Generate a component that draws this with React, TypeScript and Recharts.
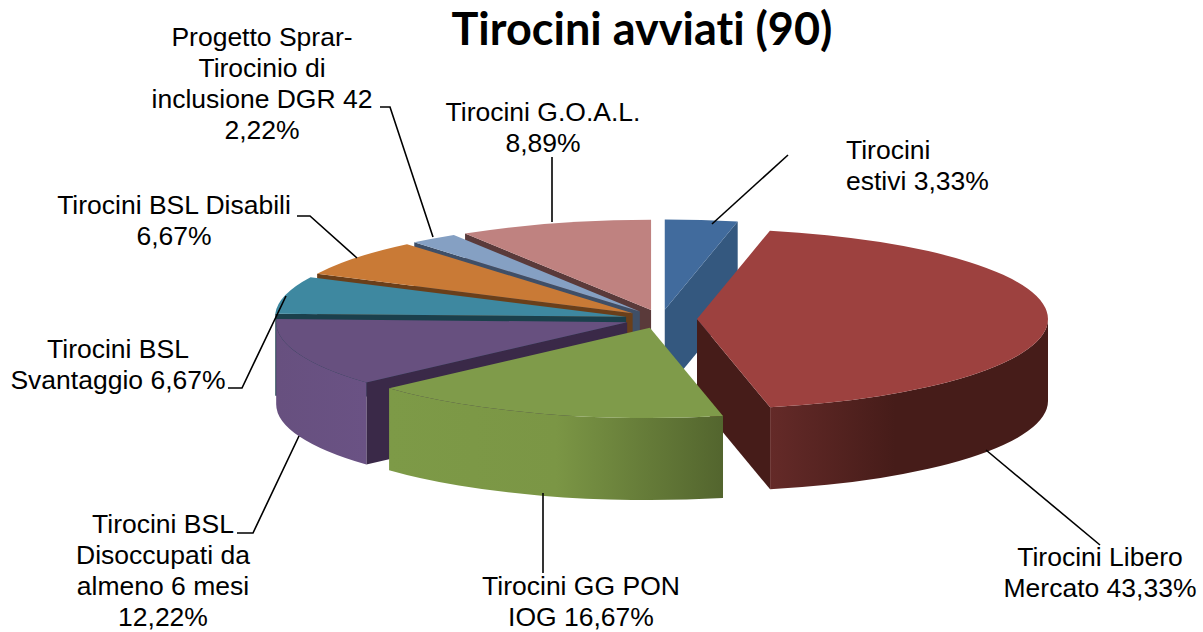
import React from 'react';
import { Cell, Pie, PieChart } from 'recharts';

const names = [
  'Tirocini estivi',
  'Tirocini Libero Mercato',
  'Tirocini GG PON IOG',
  'Tirocini BSL Disoccupati da almeno 6 mesi',
  'Tirocini BSL Svantaggio',
  'Tirocini BSL Disabili',
  'Progetto Sprar-Tirocinio di inclusione DGR 42',
  'Tirocini G.O.A.L.',
];
const values = [3.33, 43.33, 16.67, 12.22, 6.67, 6.67, 2.22, 8.89];

const data = names.map((name, i) => ({ name, value: values[i] }));

// line breaks of each label, percentage included
const labelLines = [
  ['Tirocini', 'estivi 3,33%'],
  ['Tirocini Libero', 'Mercato 43,33%'],
  ['Tirocini GG PON', 'IOG 16,67%'],
  ['Tirocini BSL', 'Disoccupati da', 'almeno 6 mesi', '12,22%'],
  ['Tirocini BSL', 'Svantaggio 6,67%'],
  ['Tirocini BSL Disabili', '6,67%'],
  ['Progetto Sprar-', 'Tirocinio di', 'inclusione DGR 42', '2,22%'],
  ['Tirocini G.O.A.L.', '8,89%'],
];
const labelAnchor = [
  [846, 159, 'start'],
  [1100, 566, 'middle'],
  [581, 595, 'middle'],
  [163, 533, 'middle'],
  [118, 358, 'middle'],
  [174, 214, 'middle'],
  [262, 46, 'middle'],
  [543, 121, 'middle'],
];
const leaders = [
  '788,155 712,224',
  '986,450 1100,545',
  '543,493 543,573',
  '299,436 253,533 237,533',
  '286,296 242,388 228,388',
  '357,258 310,216 297,216',
  '433,237 390,107 380,107',
  '552,222 552,157',
];

const topColors = ['#416b9d', '#9d413f', '#7f9b4a', '#67507f', '#3e88a0', '#c97a36', '#85a0c3', '#bf8280'];
const faceColors = ['#34587f', '#461c19', '#556a31', '#3a2948', '#1b404c', '#6a3f1a', '#3f4f67', '#5a3a3a'];
const wallStops = [
  [['0%', '#416b9d'], ['100%', '#34587f']],
  [['0%', '#642a28'], ['45%', '#461c19'], ['100%', '#461c19']],
  [['0%', '#7d9a47'], ['50%', '#7b9645'], ['100%', '#53652e']],
  [['0%', '#67507f'], ['100%', '#6a5284']],
  [['0%', '#3e88a0'], ['100%', '#3e88a0']],
  [['0%', '#c97a36'], ['100%', '#c97a36']],
  [['0%', '#85a0c3'], ['100%', '#85a0c3']],
  [['0%', '#bf8280'], ['100%', '#bf8280']],
];

// back slices first, so the front ones cover them
const paintOrder = [7, 6, 5, 4, 0, 1, 3, 2];

const TILT = 90 / 350;
const DEPTH = 82;
const EXPLODE = 36;
const RAD = Math.PI / 180;

const renderSlice = (only: number) => (props: any) => {
  const i = names.indexOf(props.name);
  if (i !== only) return null;
  const { cx, cy, outerRadius: r } = props;
  const from = 90 - props.startAngle;
  const to = 90 - props.endAngle;
  const mid = (from + to) / 2;
  const ox = cx + EXPLODE * Math.sin(mid * RAD);
  const oy = cy - EXPLODE * TILT * Math.cos(mid * RAD);
  const px = (a: number) => ox + r * Math.sin(a * RAD);
  const py = (a: number) => oy - r * TILT * Math.cos(a * RAD);
  const arc = (a: number, b: number, dy: number, sweep: number) =>
    `A${r} ${r * TILT} 0 ${Math.abs(b - a) > 180 ? 1 : 0} ${sweep} ${px(b)} ${py(b) + dy}`;
  const face = (a: number) =>
    `M${ox} ${oy}L${px(a)} ${py(a)}V${py(a) + DEPTH}L${ox} ${oy + DEPTH}Z`;
  const wallFrom = Math.max(from, 90);
  const wallTo = Math.min(to, 270);
  return (
    <g>
      {Math.sin(from * RAD) < 0 && <path d={face(from)} fill={faceColors[i]} />}
      {Math.sin(to * RAD) > 0 && <path d={face(to)} fill={faceColors[i]} />}
      {wallTo > wallFrom && (
        <path
          d={`M${px(wallFrom)} ${py(wallFrom)}${arc(wallFrom, wallTo, 0, 1)}V${py(wallTo) + DEPTH}${arc(wallTo, wallFrom, DEPTH, 0)}Z`}
          fill={`url(#wall-${i})`}
        />
      )}
      <path d={`M${ox} ${oy}L${px(from)} ${py(from)}${arc(from, to, 0, 1)}Z`} fill={topColors[i]} />
    </g>
  );
};

const renderLabel = ({ index }: any) => {
  const [x, y, anchor] = labelAnchor[index];
  return (
    <g key={index}>
      <polyline points={leaders[index]} fill='none' stroke='#000' strokeWidth={1.6} />
      <text x={x} y={y} textAnchor={anchor as string} fontFamily='Liberation Sans' fontSize={26.5} fill='#000'>
        {labelLines[index].map((line, n) => (
          <tspan key={n} x={x} dy={n === 0 ? 0 : 31}>
            {line}
          </tspan>
        ))}
      </text>
    </g>
  );
};

const pieProps = {
  data,
  dataKey: 'value',
  nameKey: 'name',
  cx: 661,
  cy: 319,
  outerRadius: 351,
  startAngle: 90,
  endAngle: -270,
  stroke: 'none',
  isAnimationActive: false,
};

const App: React.FC = () => (
  <div style={{ position: 'absolute', left: 0, top: 0, width: 1203, height: 632, background: '#fff' }}>
    <PieChart width={1203} height={632} margin={{ top: 0, right: 0, bottom: 0, left: 0 }}>
      <defs>
        {wallStops.map((stops, i) => (
          <linearGradient key={i} id={`wall-${i}`} x1='0' x2='1' y1='0' y2='0'>
            {stops.map(([o, c]) => <stop key={o} offset={o} stopColor={c} />)}
          </linearGradient>
        ))}
      </defs>
      {paintOrder.map((i) => (
        <Pie key={names[i]} {...pieProps} shape={renderSlice(i)} labelLine={false} label={false}>
          {data.map((entry) => (
            <Cell key={entry.name} fill={topColors[names.indexOf(entry.name)]} />
          ))}
        </Pie>
      ))}
      <Pie {...pieProps} shape={() => null} labelLine={false} label={renderLabel} />
      <text
        x={642}
        y={45}
        textAnchor='middle'
        fontFamily='Lato'
        fontWeight={700}
        fontSize={45}
        fill='#000'
        style={{ fontVariantLigatures: 'none' }}
      >
        Tirocini avviati (90)
      </text>
    </PieChart>
  </div>
);

export default App;
